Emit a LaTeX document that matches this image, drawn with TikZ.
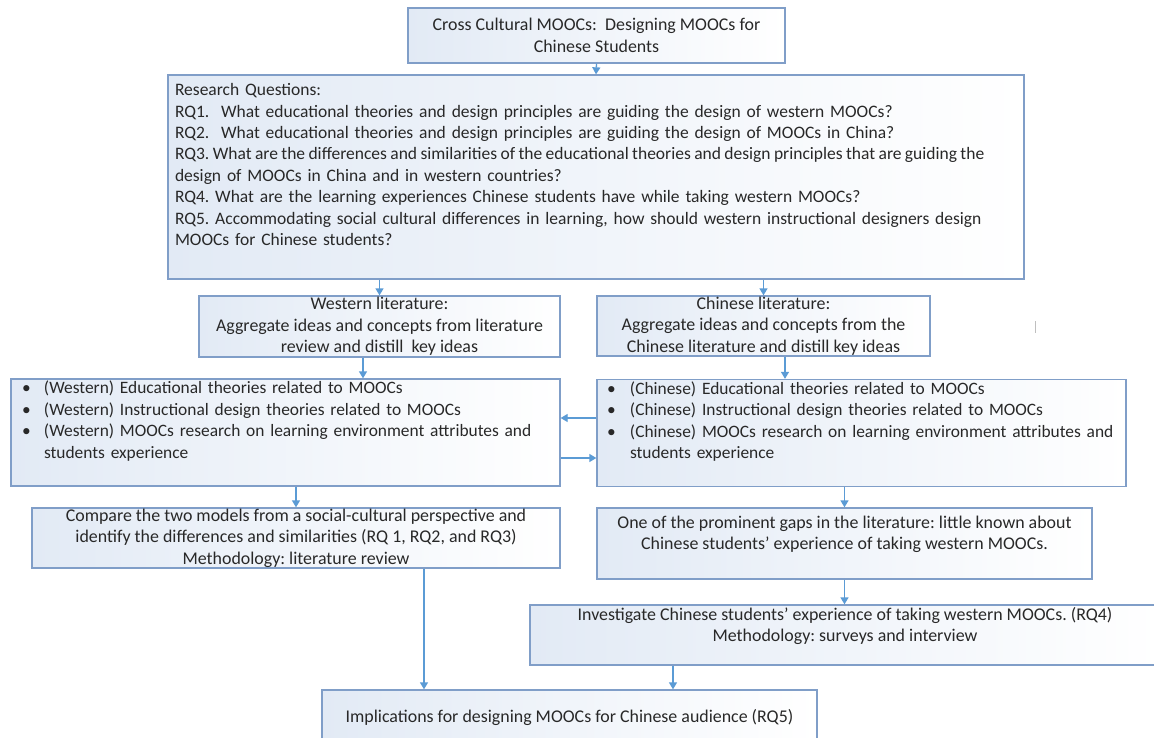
\documentclass[tikz,border=0pt]{standalone}
\usepackage{fontspec}
\setmainfont{Carlito}
\usetikzlibrary{arrows.meta}
\definecolor{boxline}{RGB}{128,158,200}
\definecolor{boxfill}{RGB}{226,234,245}
\definecolor{arrowblue}{RGB}{91,155,213}
\definecolor{txt}{RGB}{40,40,40}
\tikzset{
  box/.style={draw=boxline, line width=1.3pt, left color=boxfill, right color=white,
    text=txt, font=\fontsize{17.9}{21.5}\selectfont, inner sep=0pt, align=center},
  leftbox/.style={box, align=left},
  bulletbox/.style={leftbox, font=\fontsize{17.4}{21.4}\selectfont},
  arr/.style={draw=arrowblue, line width=1.3pt, -{Triangle[length=7pt,width=8pt]}},
}
\begin{document}
\frenchspacing
\begin{tikzpicture}[x=1pt,y=-1pt]
\useasboundingbox (0,0) rectangle (1154,738);
\clip (0,0) rectangle (1154,738);
\fill[white] (0,0) rectangle (1154,738);

\node[box, minimum width=377pt, minimum height=55pt] (top) at (596.5,35.5)
  {Cross Cultural MOOCs:\ \ Designing MOOCs for\\Chinese Students};

\node[leftbox, font=\fontsize{17.5}{21.4}\selectfont, minimum width=856pt, minimum height=204pt, text width=842pt, inner xsep=7pt] (rq) at (596,177)
  {\begin{tabular}{@{}l@{}}
   Research Questions:\\
   RQ1.\ \ What educational theories and design principles are guiding the design of western MOOCs?\\
   RQ2.\ \ What educational theories and design principles are guiding the design of MOOCs in China?\\
   {\spaceskip=3.4pt\relax RQ3. What are the differences and similarities of the educational theories and design principles that are guiding the}\\
   design of MOOCs in China and in western countries?\\
   RQ4. What are the learning experiences Chinese students have while taking western MOOCs?\\
   RQ5. Accommodating social cultural differences in learning, how should western instructional designers design\\
   MOOCs for Chinese students?\\
   \mbox{}
   \end{tabular}};

\node[box, minimum width=361pt, minimum height=61pt] (wlit) at (379.5,326.5)
  {Western literature:\\Aggregate ideas and concepts from literature\\review and distill\ \ key ideas};

\node[box, minimum width=333pt, minimum height=60pt] (clit) at (763.5,326)
  {Chinese literature:\\Aggregate ideas and concepts from the\\Chinese literature and distill key ideas};

\node[bulletbox, minimum width=549pt, minimum height=99pt, text width=527pt, inner xsep=11pt] (wbul) at (285.5,432.5)
  {\begin{tabular}{@{}p{22pt}@{}l@{}}
   \textbullet & (Western) Educational theories related to MOOCs\\
   \textbullet & (Western) Instructional design theories related to MOOCs\\
   \textbullet & (Western) MOOCs research on learning environment attributes and\\
   & students experience\\
   &
   \end{tabular}};

\node[bulletbox, minimum width=529pt, minimum height=100pt, text width=509pt, inner xsep=10pt] (cbul) at (861.5,433)
  {\begin{tabular}{@{}p{23pt}@{}l@{}}
   \textbullet & (Chinese) Educational theories related to MOOCs\\
   \textbullet & (Chinese) Instructional design theories related to MOOCs\\
   \textbullet & (Chinese) MOOCs research on learning environment attributes and\\
   & students experience\\
   &
   \end{tabular}};

\node[box, minimum width=528pt, minimum height=60pt] (cmp) at (296,538)
  {Compare the two models from a social-cultural perspective and\\identify the differences and similarities (RQ 1, RQ2, and RQ3)\\Methodology: literature review};

\node[box, minimum width=495pt, minimum height=71pt] (gap) at (844.5,543.5)
  {One of the prominent gaps in the literature: little known about\\Chinese students’ experience of taking western MOOCs.\\\mbox{}};

\node[box, minimum width=630pt, minimum height=60pt] (inv) at (845,635)
  {Investigate Chinese students’ experience of taking western MOOCs. (RQ4)\\Methodology: surveys and interview\\\mbox{}};

\node[box, minimum width=495pt, minimum height=54pt] (imp) at (569.5,717)
  {Implications for designing MOOCs for Chinese audience (RQ5)};

% stray tick mark
\draw[black!25, line width=0.8pt] (1035,321) -- (1035,333);

\draw[arr] (top.south) -- (rq.north);
\draw[arr] (rq.south -| wlit.north) -- (wlit.north);
\draw[arr] (rq.south -| clit.north) -- (clit.north);
\draw[arr] ([xshift=-16.5pt]wlit.south) -- ([xshift=-16.5pt]wlit.south |- wbul.north);
\draw[arr] ([xshift=21.5pt]clit.south) -- ([xshift=21.5pt]clit.south |- cbul.north);
\draw[arr] ([yshift=15pt]cbul.west) -- ([yshift=15pt]cbul.west -| wbul.east);
\draw[arr] ([yshift=-25.5pt]wbul.east) -- ([yshift=-25.5pt]wbul.east -| cbul.west);
\draw[arr] (wbul.south -| cmp.north) -- (cmp.north);
\draw[arr] (cbul.south -| gap.north) -- (gap.north);
\draw[arr] (gap.south) -- (gap.south |- inv.north);
\draw[arr] ([xshift=128pt]cmp.south) -- ([xshift=128pt]cmp.south |- imp.north);
\draw[arr] ([xshift=-172pt]inv.south) -- ([xshift=-172pt]inv.south |- imp.north);
\end{tikzpicture}
\end{document}
